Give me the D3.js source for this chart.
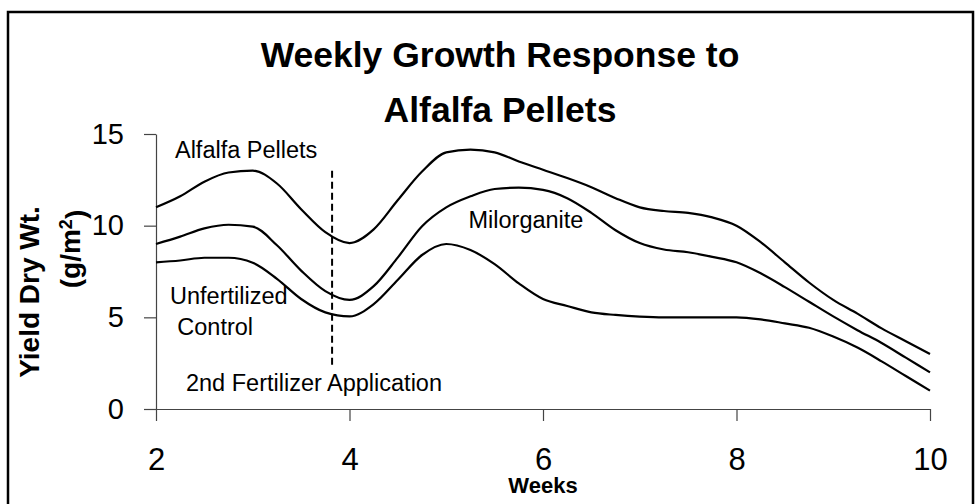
<!DOCTYPE html>
<html>
<head>
<meta charset="utf-8">
<script src="https://cdn.jsdelivr.net/npm/d3@7"></script>
<style>
  html, body { margin: 0; padding: 0; background: #fff; }
  svg { display: block; font-family: "Liberation Sans", Arial, sans-serif; }
</style>
</head>
<body>
<svg id="chart" width="977" height="504"></svg>
<script>
// ---- data ----
const weeks = [2, 2.25, 2.5, 2.75, 3, 3.25, 3.5, 3.75, 4, 4.25, 4.5, 4.75, 5, 5.25, 5.5, 5.75,
               6, 6.25, 6.5, 6.75, 7, 7.25, 7.5, 7.75, 8, 8.25, 8.5, 8.75, 9, 9.25, 9.5, 9.75, 10];
const alfalfaPellets = [11.0, 11.6, 12.4, 12.9, 13.0, 12.3, 10.9, 9.65, 9.05, 9.8, 11.4, 12.95, 14.0, 14.15,
                        14.0, 13.5, 13.05, 12.6, 12.1, 11.5, 11.0, 10.8, 10.7, 10.45, 10.0, 9.1, 8.0, 6.9,
                        5.95, 5.2, 4.4, 3.7, 3.0];
const milorganite = [9.0, 9.4, 9.85, 10.05, 9.95, 8.93, 7.55, 6.43, 5.95, 6.7, 8.27, 9.97, 11.0, 11.6,
                     12.0, 12.07, 11.95, 11.5, 10.7, 9.75, 9.05, 8.7, 8.55, 8.3, 8.0, 7.4, 6.65, 5.85,
                     5.05, 4.3, 3.6, 2.8, 2.0];
const unfertilizedControl = [8.0, 8.1, 8.25, 8.25, 7.98, 7.1, 6.0, 5.27, 5.05, 5.72, 7.05, 8.4, 9.0, 8.67,
                             7.9, 6.85, 6.0, 5.62, 5.27, 5.13, 5.04, 5.0, 5.0, 5.0, 5.0, 4.89, 4.67, 4.43,
                             3.95, 3.35, 2.6, 1.8, 1.0];
const xTicks = [2, 4, 6, 8, 10];
const yTicks = [0, 5, 10, 15];
const secondApplicationWeek = 3.82;
const secondApplicationRange = [2.2, 13.0];
const titleLines = ["Weekly Growth Response to", "Alfalfa Pellets"];

// ---- layout ----
const svg = d3.select("#chart");
const x = d3.scaleLinear().domain([2, 10]).range([156, 930]);
const y = d3.scaleLinear().domain([0, 15]).range([409, 134]);

// outer border
svg.append("rect")
  .attr("x", 8).attr("y", 12).attr("width", 965).attr("height", 520)
  .attr("fill", "none").attr("stroke", "#000").attr("stroke-width", 2.5);

// title
svg.append("g").selectAll("text").data(titleLines).join("text")
  .attr("x", 500).attr("y", (d, i) => 67 + i * 55)
  .attr("text-anchor", "middle")
  .attr("font-weight", "bold")
  .attr("font-size", 35.5)
  .attr("fill", "#000")
  .text(d => d);

// axes
const axisColor = "#444";
const yAxis = svg.append("g")
  .attr("transform", `translate(${x(2)},0)`)
  .call(d3.axisLeft(y).tickValues(yTicks).tickSize(12).tickSizeOuter(0).tickPadding(20));
const xAxis = svg.append("g")
  .attr("transform", `translate(0,${y(0)})`)
  .call(d3.axisBottom(x).tickValues(xTicks).tickSize(12).tickSizeOuter(0).tickPadding(27));

[yAxis, xAxis].forEach(g => {
  g.select(".domain").attr("stroke", axisColor).attr("stroke-width", 1.2);
  g.selectAll(".tick line").attr("stroke", axisColor).attr("stroke-width", 1.2);
  g.selectAll(".tick text").attr("fill", "#000").attr("font-family", "Liberation Sans, Arial, sans-serif");
});
yAxis.selectAll(".tick text").attr("font-size", 29);
xAxis.selectAll(".tick text").attr("font-size", 31);

// axis titles
svg.append("text")
  .attr("x", x(6)).attr("y", 492.5)
  .attr("text-anchor", "middle")
  .attr("font-weight", "bold").attr("font-size", 22)
  .text("Weeks");

svg.append("text")
  .attr("transform", "translate(39,292) rotate(-90)")
  .attr("text-anchor", "middle")
  .attr("font-weight", "bold").attr("font-size", 28)
  .text("Yield Dry Wt.");

const unit = svg.append("text")
  .attr("transform", "translate(80,249) rotate(-90)")
  .attr("text-anchor", "middle")
  .attr("font-weight", "bold").attr("font-size", 28);
unit.append("tspan").text("(g/m");
unit.append("tspan").attr("dy", "-0.45em").attr("font-size", 18).text("2");
unit.append("tspan").attr("dy", "0.45em").text(")");

// series lines
const line = d3.line()
  .x((d, i) => x(weeks[i]))
  .y(d => y(d))
  .curve(d3.curveMonotoneX);

svg.append("g").selectAll("path")
  .data([alfalfaPellets, milorganite, unfertilizedControl])
  .join("path")
  .attr("d", d => line(d))
  .attr("fill", "none")
  .attr("stroke", "#000")
  .attr("stroke-width", 2.2)
  .attr("stroke-linejoin", "round");

// second fertilizer application marker
svg.append("line")
  .attr("x1", x(secondApplicationWeek)).attr("x2", x(secondApplicationWeek))
  .attr("y1", y(secondApplicationRange[1])).attr("y2", y(secondApplicationRange[0]))
  .attr("stroke", "#000").attr("stroke-width", 2)
  .attr("stroke-dasharray", "7,4");

// annotations
const notes = [
  { text: "Alfalfa Pellets", wx: 2.196, v: 13.69 },
  { text: "Milorganite", wx: 5.23, v: 9.86 },
  { text: "Unfertilized", wx: 2.145, v: 5.71 },
  { text: "Control", wx: 2.22, v: 4.04 },
  { text: "2nd Fertilizer Application", wx: 2.31, v: 1.0 }
];
svg.append("g").selectAll("text").data(notes).join("text")
  .attr("x", d => x(d.wx)).attr("y", d => y(d.v))
  .attr("font-size", 23.5)
  .attr("fill", "#000")
  .text(d => d.text);
</script>
</body>
</html>
